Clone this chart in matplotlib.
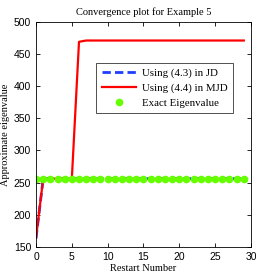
import matplotlib
matplotlib.use("Agg")
import matplotlib.pyplot as plt
import numpy as np

restarts = list(range(30))
jd_vals = [163] + [256] * 29
mjd_vals = [164, 256, 256, 256, 256, 256, 469] + [471] * 23
exact_vals = [256] * 30

fig = plt.figure(figsize=(2.77, 2.77), dpi=100)
ax = fig.add_axes([0.13, 0.109, 0.776, 0.812])

ax.plot(restarts, jd_vals, color='#1f3fff', linestyle=(0, (3, 1.5)), linewidth=2.0,
        label='Using (4.3) in JD')
ax.plot(restarts, mjd_vals, color='#ff0000', linewidth=1.6, label='Using (4.4) in MJD')
ax.plot(restarts, exact_vals, linestyle='none', marker='o', markersize=4.5,
        color='#66ff00', label='Exact Eigenvalue')

ax.set_xlim(0, 30)
ax.set_ylim(150, 500)
ax.set_xticks(range(0, 31, 5))
ax.set_yticks(range(150, 501, 50))
ax.tick_params(direction='in', top=True, right=True, length=3, width=0.6,
               labelsize=7.5)
for lab in ax.get_xticklabels() + ax.get_yticklabels():
    lab.set_fontfamily('Liberation Sans')
for s in ax.spines.values():
    s.set_linewidth(0.6)

serif = 'Liberation Serif'
ax.set_title('Convergence plot for Example 5', fontsize=7.5, family=serif, pad=5)
ax.set_xlabel('Restart Number', fontsize=7.5, family=serif, labelpad=1.5)
ax.set_ylabel('Approximate eigenvalue', fontsize=7.5, family=serif)
ax.yaxis.set_label_coords(-0.12, 0.5)

leg = ax.legend(loc='upper left', bbox_to_anchor=(0.265, 0.832), fancybox=False,
                framealpha=1, edgecolor='#333333', prop={'family': serif, 'size': 7.8},
                handlelength=3.2, borderpad=0.5, labelspacing=0.48, handletextpad=0.5,
                borderaxespad=0.3)
leg.get_frame().set_linewidth(0.6)

fig.savefig('out.png', dpi=100)
